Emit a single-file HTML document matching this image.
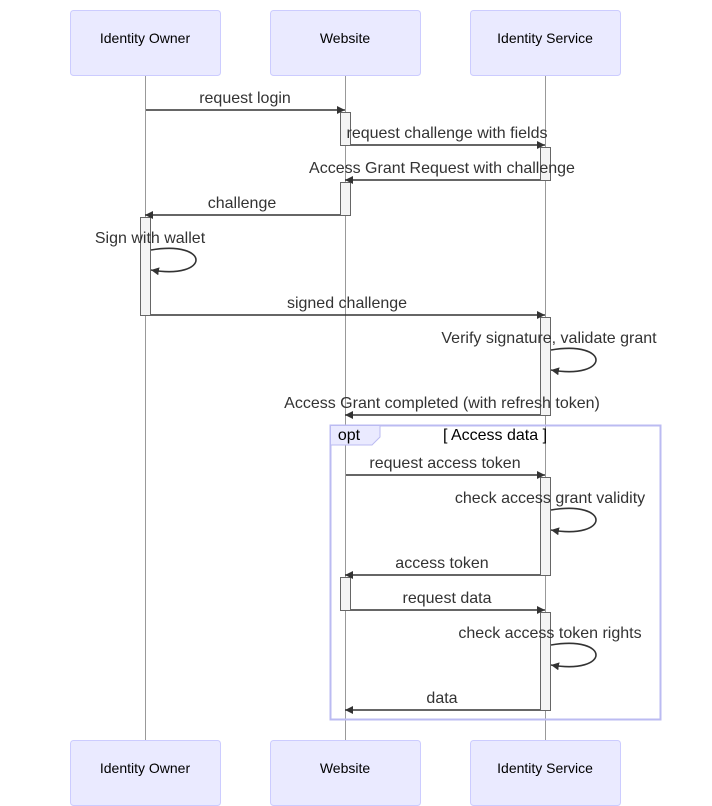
<!DOCTYPE html>
<html><head><meta charset="utf-8"><style>
html,body{margin:0;padding:0;background:#fff;}
svg{display:block;}
text{font-family:"Liberation Sans","DejaVu Sans",sans-serif;fill:#333;}
.a{font-size:14px;fill:#000;}
.m{font-size:16px;}
</style></head><body>
<svg width="712" height="806" viewBox="0 0 712 806" xmlns="http://www.w3.org/2000/svg">
<defs>
<marker id="ar" markerWidth="10" markerHeight="10" refX="8" refY="4" orient="auto" markerUnits="userSpaceOnUse">
<path d="M0,0 L8,4 L0,8 z" fill="#333"/>
</marker>
</defs>
<g stroke="#999" stroke-width="1">
<line x1="145.5" y1="75" x2="145.5" y2="740"/>
<line x1="345.5" y1="75" x2="345.5" y2="740"/>
<line x1="545.5" y1="75" x2="545.5" y2="740"/>
</g>
<g fill="#eaeaff" stroke="#ccccff" stroke-width="1">
<rect x="70.5" y="10.5" width="150" height="65" rx="3"/>
<rect x="270.5" y="10.5" width="150" height="65" rx="3"/>
<rect x="470.5" y="10.5" width="150" height="65" rx="3"/>
<rect x="70.5" y="740.5" width="150" height="65" rx="3"/>
<rect x="270.5" y="740.5" width="150" height="65" rx="3"/>
<rect x="470.5" y="740.5" width="150" height="65" rx="3"/>
</g>
<g class="a" text-anchor="middle">
<text x="145" y="43" class="a">Identity Owner</text>
<text x="345" y="43" class="a">Website</text>
<text x="545" y="43" class="a">Identity Service</text>
<text x="145" y="773" class="a">Identity Owner</text>
<text x="345" y="773" class="a">Website</text>
<text x="545" y="773" class="a">Identity Service</text>
</g>
<rect x="330.5" y="425.5" width="330" height="294" fill="none" stroke="#bbbbf2" stroke-width="2"/>
<polygon points="330.5,425.5 380,425.5 380,437 372,445 330.5,445" fill="#eaeaff" stroke="#bbbbf2" stroke-width="1"/>
<text x="349" y="440" text-anchor="middle" style="font-size:16px;fill:#000">opt</text>
<text x="495" y="440" text-anchor="middle" style="font-size:16px;fill:#000">[ Access data ]</text>
<g fill="#f4f4f4" stroke="#666" stroke-width="1">
<rect x="340.5" y="112.5" width="10" height="33"/>
<rect x="540.5" y="147.5" width="10" height="33"/>
<rect x="340.5" y="182.5" width="10" height="33"/>
<rect x="140.5" y="217.5" width="10" height="98"/>
<rect x="540.5" y="317.5" width="10" height="98"/>
<rect x="540.5" y="477.5" width="10" height="98"/>
<rect x="340.5" y="577.5" width="10" height="33"/>
<rect x="540.5" y="612.5" width="10" height="98"/>
</g>
<g stroke="#333" stroke-width="1.6" fill="none" marker-end="url(#ar)">
<line x1="146" y1="110" x2="345" y2="110"/>
<line x1="351" y1="145" x2="545" y2="145"/>
<line x1="540" y1="180" x2="345" y2="180"/>
<line x1="340" y1="215" x2="145" y2="215"/>
<path d="M151,250 C211,240 211,280 151,270"/>
<line x1="151" y1="315" x2="545" y2="315"/>
<path d="M551,350 C611,340 611,380 551,370"/>
<line x1="540" y1="415" x2="345" y2="415"/>
<line x1="346" y1="475" x2="545" y2="475"/>
<path d="M551,510 C611,500 611,540 551,530"/>
<line x1="540" y1="575" x2="345" y2="575"/>
<line x1="351" y1="610" x2="545" y2="610"/>
<path d="M551,645 C611,635 611,675 551,665"/>
<line x1="540" y1="710" x2="345" y2="710"/>
</g>
<g class="m" text-anchor="middle">
<text x="245" y="103" class="m">request login</text>
<text x="447" y="138" class="m">request challenge with fields</text>
<text x="442" y="173" class="m">Access Grant Request with challenge</text>
<text x="242" y="208" class="m">challenge</text>
<text x="150" y="243" class="m">Sign with wallet</text>
<text x="347" y="308" class="m">signed challenge</text>
<text x="549" y="343" class="m">Verify signature, validate grant</text>
<text x="442" y="408" class="m">Access Grant completed (with refresh token)</text>
<text x="445" y="468" class="m">request access token</text>
<text x="550" y="503" class="m">check access grant validity</text>
<text x="442" y="568" class="m">access token</text>
<text x="447" y="603" class="m">request data</text>
<text x="550" y="638" class="m">check access token rights</text>
<text x="442" y="703" class="m">data</text>
</g>
</svg>
</body></html>
